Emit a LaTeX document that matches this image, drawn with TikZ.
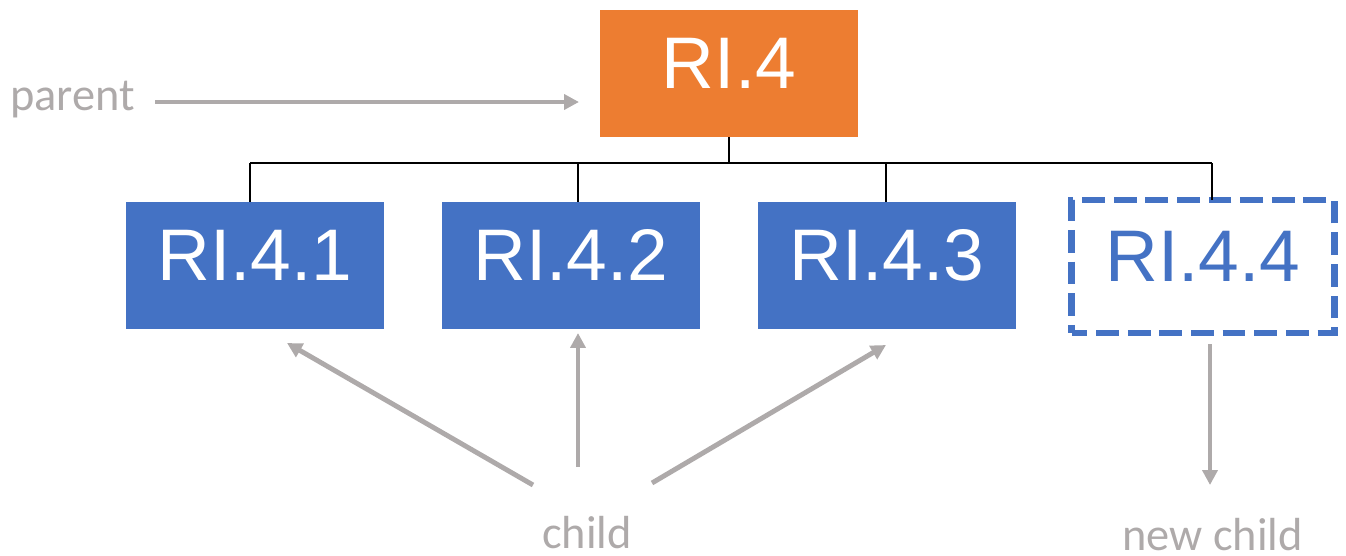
\documentclass[tikz,border=0pt]{standalone}
\usepackage{fontspec}
\setmainfont{Liberation Sans}
\newfontfamily\calib{Carlito}
\usetikzlibrary{arrows.meta}
\definecolor{obox}{HTML}{ED7D31}
\definecolor{bbox}{HTML}{4472C4}
\definecolor{gline}{HTML}{AEAAAA}
\begin{document}
\begin{tikzpicture}[x=0.02cm,y=-0.02cm,
  box/.style={minimum width=5.16cm,minimum height=2.54cm,inner sep=0pt,
    text height=1.04cm,text depth=0.44cm,
    font=\fontsize{41.6}{48}\selectfont},
  filledbox/.style={box,fill=bbox,text=white},
  dashbox/.style={box,draw=bbox,line width=3.9pt,dash pattern=on 13pt off 5pt,dash phase=4pt,text=bbox,minimum width=5.26cm,minimum height=2.66cm},
  tree/.style={draw=black,line width=1.1pt},
  garrow/.style={draw=gline,line width=2.8pt,-{Triangle[length=8.5pt,width=8.5pt]}},
  glabel/.style={text=gline,font=\calib\fontsize{26.4}{30}\selectfont,inner sep=0pt,text depth=0pt,anchor=base west}]
\useasboundingbox (0,0) rectangle (1346,555);
\node[box,fill=obox,text=white] (top) at (729,73.5) {RI.4};
\node[filledbox] (b1) at (255,265.5) {RI.4.1};
\node[filledbox] (b2) at (571,265.5) {RI.4.2};
\node[filledbox] (b3) at (887,265.5) {RI.4.3};
\node[dashbox] (b4) at (1203,266.5) {RI.4.4};
\coordinate (hub) at (729,163);
\coordinate (j1) at (250,163);
\coordinate (j2) at (578,163);
\coordinate (j3) at (886,163);
\coordinate (j4) at (1212,163);
\draw[tree] (top.south) -- (hub);
\draw[tree] (j1) -- (j4);
\draw[tree] (j1) -- (j1 |- b1.north);
\draw[tree] (j2) -- (j2 |- b2.north);
\draw[tree] (j3) -- (j3 |- b3.north);
\draw[tree] (j4) -- ([yshift=-0.06cm]j4 |- b4.north);
\node[glabel] (parent) at (10,110) {parent};
\node[glabel] (child) at (542,548) {child};
\node[glabel] (newchild) at (1122,550) {new child};
\coordinate (ps) at (155,102);
\coordinate (pt) at (579,102);
\draw[garrow] (ps) -- (pt);
\coordinate (c1s) at (533,485);
\coordinate (c1t) at (287,343);
\coordinate (c2s) at (578,467);
\coordinate (c2t) at (578,333);
\coordinate (c3s) at (652,483);
\coordinate (c3t) at (886,345);
\draw[garrow] (c1s) -- (c1t);
\draw[garrow] (c2s) -- (c2t);
\draw[garrow] (c3s) -- (c3t);
\coordinate (n1s) at (1210,344);
\coordinate (n1t) at (1210,485);
\draw[garrow] (n1s) -- (n1t);
\end{tikzpicture}
\end{document}
